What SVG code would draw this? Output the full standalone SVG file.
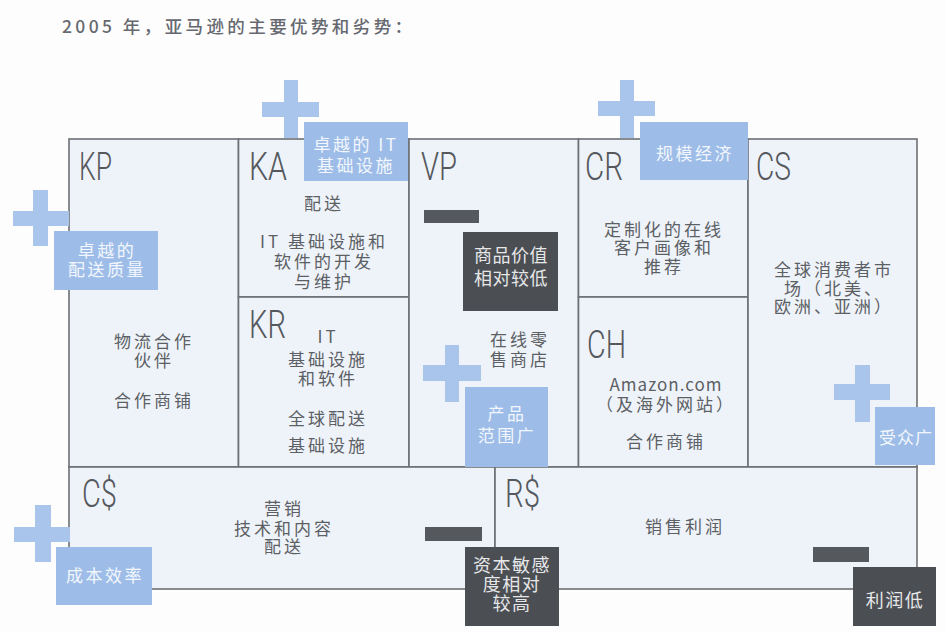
<svg xmlns="http://www.w3.org/2000/svg" width="946" height="632" viewBox="0 0 946 632">
<style>
.box{fill:#eef3fa;stroke:#6c6f74;stroke-width:1.6}
.lbl{font-family:Roboto,"DejaVu Sans Condensed","Liberation Sans",sans-serif;font-weight:300;font-size:38px;fill:#55585d}
.t{font-family:"Noto Sans CJK SC","Noto Sans",sans-serif;font-size:17px;fill:#5c5f64;text-anchor:middle;letter-spacing:3px}
.title{font-family:"Noto Sans CJK SC","Noto Sans",sans-serif;font-size:17.5px;fill:#66696f;letter-spacing:3.4px;font-weight:500}
.plus{fill:#a9c5ec}
.tagb{fill:#9dbde8}
.tagd{fill:#4b4e53}
.minus{fill:#55585d}
.tw{font-family:"Noto Sans CJK SC","Noto Sans",sans-serif;font-size:17px;fill:#f3f7fd;text-anchor:middle;letter-spacing:2.5px}
.td{font-family:"Noto Sans CJK SC","Noto Sans",sans-serif;font-size:18px;fill:#e6e7e9;text-anchor:middle;letter-spacing:0.5px}
</style>
<rect width="946" height="632" fill="#fdfdfd"/>
<text class="title" x="62" y="33">2005 年，亚马逊的主要优势和劣势：</text>

<g id="KP">
<rect class="box" x="69" y="139" width="169.5" height="328"/>
<text class="lbl" x="79" y="180" textLength="33" lengthAdjust="spacingAndGlyphs">KP</text>
<text class="t"><tspan x="154" y="348">物流合作</tspan><tspan x="154" y="367">伙伴</tspan></text>
<text class="t" x="154" y="407">合作商铺</text>
</g>
<g id="KA">
<rect class="box" x="238.5" y="139" width="170.5" height="158"/>
<text class="lbl" x="249" y="180" textLength="38" lengthAdjust="spacingAndGlyphs">KA</text>
<text class="t" x="324" y="210">配送</text>
<text class="t"><tspan x="324" y="248">IT 基础设施和</tspan><tspan x="324" y="268">软件的开发</tspan><tspan x="324" y="288">与维护</tspan></text>
</g>
<g id="KR">
<rect class="box" x="238.5" y="297" width="170.5" height="170"/>
<text class="lbl" x="249" y="338" textLength="37" lengthAdjust="spacingAndGlyphs">KR</text>
<text class="t"><tspan x="328" y="343">IT</tspan><tspan x="328" y="366">基础设施</tspan><tspan x="328" y="385">和软件</tspan></text>
<text class="t"><tspan x="328" y="425">全球配送</tspan><tspan x="328" y="452">基础设施</tspan></text>
</g>
<g id="VP">
<rect class="box" x="409" y="139" width="169.5" height="328"/>
<text class="lbl" x="421" y="180" textLength="36" lengthAdjust="spacingAndGlyphs">VP</text>
<text class="t"><tspan x="520" y="346">在线零</tspan><tspan x="520" y="366">售商店</tspan></text>
</g>
<g id="CR">
<rect class="box" x="578.5" y="139" width="169.5" height="158"/>
<text class="lbl" x="585" y="180" textLength="38" lengthAdjust="spacingAndGlyphs">CR</text>
<text class="t"><tspan x="664" y="236">定制化的在线</tspan><tspan x="664" y="254">客户画像和</tspan><tspan x="664" y="273">推荐</tspan></text>
</g>
<g id="CH">
<rect class="box" x="578.5" y="297" width="169.5" height="170"/>
<text class="lbl" x="587" y="358" textLength="39" lengthAdjust="spacingAndGlyphs">CH</text>
<text class="t"><tspan x="666" y="391" style="letter-spacing:1px">Amazon.com</tspan><tspan x="666" y="411">（及海外网站）</tspan></text>
<text class="t" x="666" y="448">合作商铺</text>
</g>
<g id="CS">
<rect class="box" x="748" y="139" width="169" height="328"/>
<text class="lbl" x="756" y="180" textLength="35" lengthAdjust="spacingAndGlyphs">CS</text>
<text class="t"><tspan x="834" y="276">全球消费者市</tspan><tspan x="834" y="295">场（北美、</tspan><tspan x="834" y="313">欧洲、亚洲）</tspan></text>
</g>
<g id="CD">
<rect class="box" x="69" y="467" width="426" height="122"/>
<text class="lbl" x="82" y="507" textLength="35" lengthAdjust="spacingAndGlyphs">C$</text>
<text class="t"><tspan x="284" y="515">营销</tspan><tspan x="284" y="535">技术和内容</tspan><tspan x="284" y="553">配送</tspan></text>
</g>
<g id="RD">
<rect class="box" x="495" y="467" width="422" height="122"/>
<text class="lbl" x="505" y="507" textLength="35" lengthAdjust="spacingAndGlyphs">R$</text>
<text class="t" x="685" y="533">销售利润</text>
</g>

<g id="plus-KP">
<rect class="plus" x="13" y="211" width="56" height="15"/>
<rect class="plus" x="33" y="190" width="15" height="56"/>
<rect class="tagb" x="54" y="231" width="104" height="59"/>
<text class="tw"><tspan x="107" y="257">卓越的</tspan><tspan x="107" y="276">配送质量</tspan></text>
</g>
<g id="plus-KA">
<rect class="plus" x="262" y="102" width="57" height="15"/>
<rect class="plus" x="284" y="80" width="14" height="58"/>
<rect class="tagb" x="304" y="122" width="104" height="59"/>
<text class="tw"><tspan x="356" y="151">卓越的 IT</tspan><tspan x="356" y="172">基础设施</tspan></text>
</g>
<g id="plus-CR">
<rect class="plus" x="598" y="101" width="57" height="15"/>
<rect class="plus" x="620" y="80" width="14" height="58"/>
<rect class="tagb" x="640" y="122" width="108" height="58"/>
<text class="tw" x="695" y="160">规模经济</text>
</g>
<g id="plus-VP">
<rect class="plus" x="423" y="365" width="58" height="16"/>
<rect class="plus" x="445" y="345" width="14" height="57"/>
<rect class="tagb" x="465" y="387" width="83" height="80"/>
<text class="tw"><tspan x="507" y="420">产品</tspan><tspan x="507" y="442">范围广</tspan></text>
</g>
<g id="plus-CS">
<rect class="plus" x="834" y="384" width="56" height="16"/>
<rect class="plus" x="855" y="365" width="15" height="57"/>
<rect class="tagb" x="875" y="407" width="60" height="58"/>
<text class="tw" x="906" y="444" style="letter-spacing:1px">受众广</text>
</g>
<g id="plus-CD">
<rect class="plus" x="14" y="527" width="56" height="15"/>
<rect class="plus" x="35" y="505" width="16" height="57"/>
<rect class="tagb" x="56" y="547" width="96" height="58"/>
<text class="tw" x="105" y="582">成本效率</text>
</g>
<g id="minus-VP">
<rect class="minus" x="424" y="210" width="55" height="13"/>
<rect class="tagd" x="463" y="232" width="95" height="79"/>
<text class="td"><tspan x="511" y="262">商品价值</tspan><tspan x="511" y="285">相对较低</tspan></text>
</g>
<g id="minus-CD">
<rect class="minus" x="425" y="527" width="57" height="14"/>
<rect class="tagd" x="465" y="547" width="94" height="79"/>
<text class="td" style="letter-spacing:1.5px"><tspan x="512" y="572">资本敏感</tspan><tspan x="512" y="591">度相对</tspan><tspan x="512" y="610">较高</tspan></text>
</g>
<g id="minus-RD">
<rect class="minus" x="813" y="547" width="56" height="15"/>
<rect class="tagd" x="853" y="567" width="83" height="59"/>
<text class="td" x="895" y="607" style="letter-spacing:1.5px">利润低</text>
</g>
<g id="connectors"></g>
</svg>
